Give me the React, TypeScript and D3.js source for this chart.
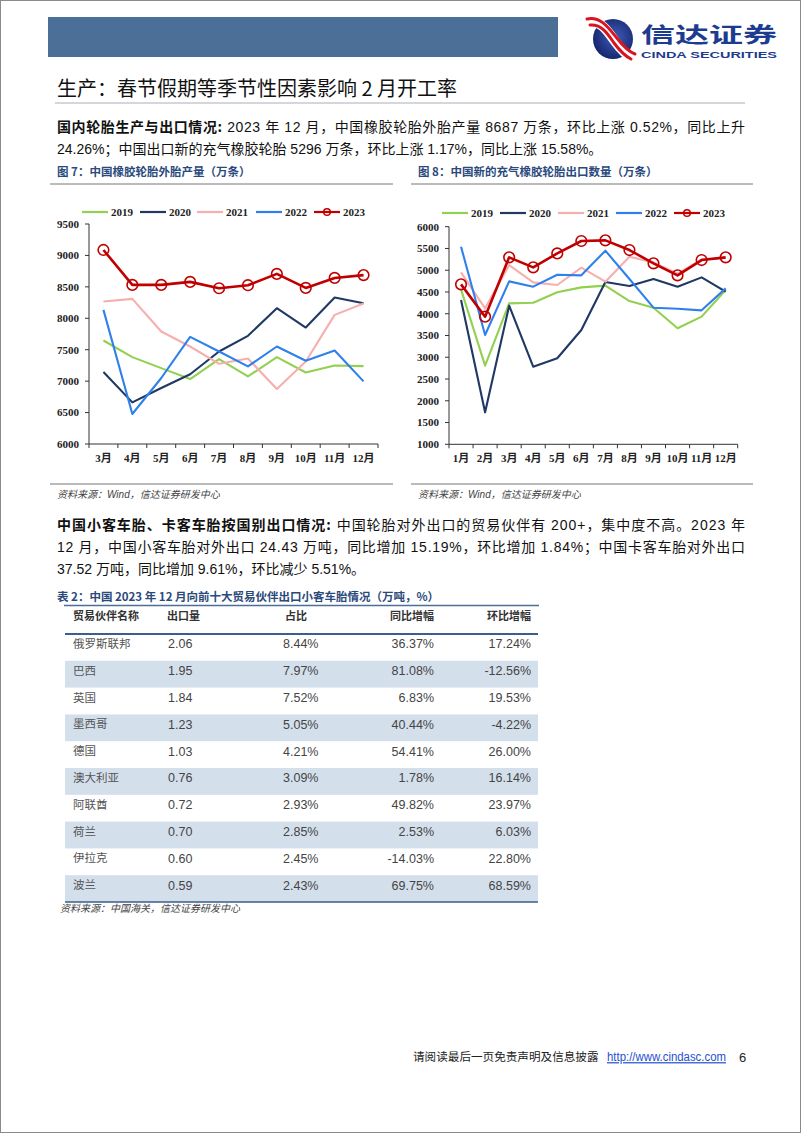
import React from 'react';
import * as d3 from 'd3';

const months1 = ['3月', '4月', '5月', '6月', '7月', '8月', '9月', '10月', '11月', '12月'];
const prod2019 = [7647, 7382, 7207, 7033, 7350, 7075, 7382, 7138, 7250, 7239];
const prod2020 = [7144, 6662, 6890, 7110, 7472, 7721, 8160, 7853, 8330, 8240];
const prod2021 = [8266, 8309, 7790, 7551, 7276, 7361, 6874, 7313, 8054, 8234];
const prod2022 = [8134, 6477, 7050, 7705, 7472, 7234, 7551, 7324, 7488, 6996];
const prod2023 = [9087, 8531, 8531, 8579, 8478, 8526, 8706, 8483, 8642, 8687];

const months2 = ['1月', '2月', '3月', '4月', '5月', '6月', '7月', '8月', '9月', '10月', '11月', '12月'];
const exp2019 = [4560, 2807, 4239, 4254, 4492, 4606, 4645, 4292, 4139, 3665, 3933, 4545];
const exp2020 = [4315, 1735, 4185, 2784, 2976, 3626, 4729, 4637, 4798, 4622, 4836, 4507];
const exp2021 = [4951, 4124, 5119, 4721, 4660, 5058, 4737, 5311, 5180, 4920, 5250, 5280];
const exp2022 = [5541, 3511, 4744, 4622, 4897, 4882, 5449, 4798, 4139, 4116, 4078, 4583];
const exp2023 = [4675, 3933, 5296, 5066, 5387, 5671, 5686, 5464, 5158, 4882, 5234, 5296];

const seriesNames = ['2019', '2020', '2021', '2022', '2023'];
const seriesColors = ['#92D050', '#1F3864', '#F7AFAD', '#2F80EC', '#C00000'];

const partners = ['俄罗斯联邦', '巴西', '英国', '墨西哥', '德国', '澳大利亚', '阿联酋', '荷兰', '伊拉克', '波兰'];
const volumes = ['2.06', '1.95', '1.84', '1.23', '1.03', '0.76', '0.72', '0.70', '0.60', '0.59'];
const shares = ['8.44%', '7.97%', '7.52%', '5.05%', '4.21%', '3.09%', '2.93%', '2.85%', '2.45%', '2.43%'];
const yoyGrowth = ['36.37%', '81.08%', '6.83%', '40.44%', '54.41%', '1.78%', '49.82%', '2.53%', '-14.03%', '69.75%'];
const momGrowth = ['17.24%', '-12.56%', '19.53%', '-4.22%', '26.00%', '16.14%', '23.97%', '6.03%', '22.80%', '68.59%'];
const tableHeaders = ['贸易伙伴名称', '出口量', '占比', '同比增幅', '环比增幅'];

const SANS = '"Liberation Sans", "Noto Sans CJK SC", sans-serif';
const CJK = '"Noto Sans CJK SC", "Liberation Sans", sans-serif';
const SERIF = '"Liberation Serif", "Noto Sans CJK SC", serif';
const TITLE_BLUE = '#2B4A7C';

type ChartProps = {
  months: string[];
  series: number[][];
  x0: number; x1: number; yTop: number; yBot: number;
  domain: [number, number];
  legendY: number;
  legendX: number[];
};

function LineChart({ months, series, x0, x1, yTop, yBot, domain, legendY, legendX }: ChartProps) {
  const x = d3.scaleBand<string>().domain(months).range([x0, x1]).padding(0);
  const y = d3.scaleLinear().domain(domain).range([yBot, yTop]);
  const bw = x.bandwidth();
  const cx = (i: number) => (x(months[i]) as number) + bw / 2;
  const line = d3.line<number>().x((_, i) => cx(i)).y((d) => y(d));
  const ticks = d3.range(domain[0], domain[1] + 1, 500);
  const axisColor = '#333';
  return (
    <g>
      {seriesNames.map((name, k) => (
        <g key={name}>
          <line x1={legendX[k]} x2={legendX[k] + 26} y1={legendY} y2={legendY} stroke={seriesColors[k]} strokeWidth={2.2} />
          {k === 4 && <circle cx={legendX[k] + 13} cy={legendY} r={3.3} fill="none" stroke={seriesColors[k]} strokeWidth={1.5} />}
          <text x={legendX[k] + 29} y={legendY} dy="0.35em" fontFamily={SERIF} fontWeight="bold" fontSize={11} fill="#222">{name}</text>
        </g>
      ))}
      <line x1={x0} x2={x0} y1={yTop} y2={yBot} stroke={axisColor} strokeWidth={1} />
      {ticks.map((t) => (
        <g key={t}>
          <line x1={x0 - 4} x2={x0} y1={y(t)} y2={y(t)} stroke={axisColor} strokeWidth={1} />
          <text x={x0 - 10} y={y(t)} dy="0.35em" textAnchor="end" fontFamily={SERIF} fontWeight="bold" fontSize={11} fill="#222">{t}</text>
        </g>
      ))}
      <line x1={x0} x2={x1} y1={yBot} y2={yBot} stroke={axisColor} strokeWidth={1} />
      {d3.range(months.length + 1).map((i) => (
        <line key={i} x1={x0 + i * bw} x2={x0 + i * bw} y1={yBot} y2={yBot + 4} stroke={axisColor} strokeWidth={1} />
      ))}
      {months.map((m, i) => (
        <text key={m} x={cx(i)} y={yBot + 14} dy="0.35em" textAnchor="middle" fontFamily={SERIF} fontWeight="bold" fontSize={11} fill="#222">{m}</text>
      ))}
      {series.map((s, k) => (
        <path key={k} d={line(s) as string} fill="none" stroke={seriesColors[k]} strokeWidth={k === 4 ? 2.6 : 2.1} strokeLinejoin="round" />
      ))}
      {series[4].map((v, i) => (
        <circle key={i} cx={cx(i)} cy={y(v)} r={5.3} fill="none" stroke={seriesColors[4]} strokeWidth={1.6} />
      ))}
    </g>
  );
}

function Logo() {
  return (
    <g>
      <defs>
        <radialGradient id="lg" cx="0.55" cy="0.45" r="0.65">
          <stop offset="0" stopColor="#3F5BB8" />
          <stop offset="1" stopColor="#101F63" />
        </radialGradient>
      </defs>
      <circle cx={613} cy={39} r={20} fill="url(#lg)" />
      <path d="M589 22 C600 20 607 30 614 40 C621 50 627 56 633 58" fill="none" stroke="#fff" strokeWidth={10} strokeLinecap="round" />
      <path d="M587 19 C600 16 608 27 616 37 C623 46 629 52 635 54" fill="none" stroke="#D9141E" strokeWidth={3} strokeLinecap="round" />
      <path d="M590 25 C602 24 608 34 614 43 C620 51 625 56 631 59" fill="none" stroke="#D9141E" strokeWidth={3} strokeLinecap="round" />
      <text x={641} y={42} fontFamily={CJK} fontWeight="bold" fontSize={21} fill="#1D3C8F" textLength={136} lengthAdjust="spacingAndGlyphs">信达证券</text>
      <text x={641} y={58} fontFamily={SANS} fontWeight="bold" fontSize={9.5} fill="#1D3C8F" textLength={136} lengthAdjust="spacingAndGlyphs">CINDA SECURITIES</text>
    </g>
  );
}

export default function App() {
  const rowTop = 634;
  const rowH = 26.8;
  const bodyFs = 14;
  return (
    <div style={{ position: 'absolute', left: 0, top: 0 }}>
      <svg width={802} height={1133} viewBox="0 0 802 1133" style={{ display: 'block', background: '#fff' }}>
        <rect x={0.5} y={0.5} width={800} height={1132} fill="#fff" stroke="#8a8a8a" strokeWidth={1} />
        <rect x={48} y={17} width={510} height={40} fill="#4C6F97" />
        <Logo />
        <text x={57} y={89} dy="0.35em" fontFamily={CJK} fontSize={20} fill="#111">生产：春节假期等季节性因素影响 2 月开工率</text>
        <line x1={55} x2={745} y1={103} y2={103} stroke="#A8B0BA" strokeWidth={1} />

        <text x={57} y={127} dy="0.35em" fontFamily={SANS} fontSize={bodyFs} fill="#111" textLength={688} lengthAdjust="spacing">
          <tspan fontFamily={CJK} fontWeight="bold">国内轮胎生产与出口情况:</tspan> 2023 年 12 月，中国橡胶轮胎外胎产量 8687 万条，环比上涨 0.52%，同比上升
        </text>
        <text x={57} y={149} dy="0.35em" fontFamily={SANS} fontSize={bodyFs} fill="#111">24.26%；中国出口新的充气橡胶轮胎 5296 万条，环比上涨 1.17%，同比上涨 15.58%。</text>

        <text x={57} y={172} dy="0.35em" fontFamily={CJK} fontWeight="bold" fontSize={11.5} fill={TITLE_BLUE}>图 7：中国橡胶轮胎外胎产量（万条）</text>
        <line x1={50} x2={393} y1={184} y2={184} stroke="#777" strokeWidth={1} />
        <text x={418} y={172} dy="0.35em" fontFamily={CJK} fontWeight="bold" fontSize={11.5} fill={TITLE_BLUE}>图 8：中国新的充气橡胶轮胎出口数量（万条）</text>
        <line x1={411} x2={753} y1={184} y2={184} stroke="#777" strokeWidth={1} />

        <LineChart months={months1} series={[prod2019, prod2020, prod2021, prod2022, prod2023]}
          x0={89} x1={378} yTop={224} yBot={444} domain={[6000, 9500]} legendY={212}
          legendX={[82, 140, 197, 256, 314]} />
        <LineChart months={months2} series={[exp2019, exp2020, exp2021, exp2022, exp2023]}
          x0={449} x1={737.7} yTop={226.7} yBot={444.3} domain={[1000, 6000]} legendY={213}
          legendX={[442, 500, 558, 616, 674]} />

        <line x1={50} x2={393} y1={484} y2={484} stroke="#777" strokeWidth={1} />
        <line x1={411} x2={753} y1={484} y2={484} stroke="#777" strokeWidth={1} />
        <text x={57} y={494} dy="0.35em" fontFamily={SANS} fontStyle="italic" fontSize={10} fill="#444">资料来源：Wind，信达证券研发中心</text>
        <text x={418} y={494} dy="0.35em" fontFamily={SANS} fontStyle="italic" fontSize={10} fill="#444">资料来源：Wind，信达证券研发中心</text>

        <text x={57} y={525} dy="0.35em" fontFamily={SANS} fontSize={bodyFs} fill="#111" textLength={688} lengthAdjust="spacing">
          <tspan fontFamily={CJK} fontWeight="bold">中国小客车胎、卡客车胎按国别出口情况:</tspan> 中国轮胎对外出口的贸易伙伴有 200+，集中度不高。2023 年
        </text>
        <text x={57} y={547} dy="0.35em" fontFamily={SANS} fontSize={bodyFs} fill="#111" textLength={688} lengthAdjust="spacing">12 月，中国小客车胎对外出口 24.43 万吨，同比增加 15.19%，环比增加 1.84%；中国卡客车胎对外出口</text>
        <text x={57} y={569} dy="0.35em" fontFamily={SANS} fontSize={bodyFs} fill="#111">37.52 万吨，同比增加 9.61%，环比减少 5.51%。</text>

        <text x={57} y={597} dy="0.35em" fontFamily={CJK} fontWeight="bold" fontSize={11.5} fill={TITLE_BLUE}>表 2：中国 2023 年 12 月向前十大贸易伙伴出口小客车胎情况（万吨，%）</text>
        <line x1={64} x2={539} y1={605.5} y2={605.5} stroke="#4C6F97" strokeWidth={1.5} />
        {[tableHeaders[0], tableHeaders[1], tableHeaders[2]].map((h, i) => (
          <text key={h} x={[73, 167, 285][i]} y={616} dy="0.35em" fontFamily={CJK} fontWeight="bold" fontSize={11} fill="#333">{h}</text>
        ))}
        <text x={434} y={616} dy="0.35em" textAnchor="end" fontFamily={CJK} fontWeight="bold" fontSize={11} fill="#333">{tableHeaders[3]}</text>
        <text x={531} y={616} dy="0.35em" textAnchor="end" fontFamily={CJK} fontWeight="bold" fontSize={11} fill="#333">{tableHeaders[4]}</text>
        {partners.map((p, i) => {
          const top = rowTop + i * rowH;
          const ty = top + 10;
          return (
            <g key={p}>
              {i % 2 === 1 && <rect x={65} y={top} width={473} height={rowH} fill="#D4DFEC" />}
              <text x={73} y={ty} dy="0.35em" fontFamily={CJK} fontSize={11.5} fill="#555">{p}</text>
              <text x={168} y={ty} dy="0.35em" fontFamily={SANS} fontSize={12.5} fill="#444">{volumes[i]}</text>
              <text x={283} y={ty} dy="0.35em" fontFamily={SANS} fontSize={12.5} fill="#444">{shares[i]}</text>
              <text x={434} y={ty} dy="0.35em" textAnchor="end" fontFamily={SANS} fontSize={12.5} fill="#444">{yoyGrowth[i]}</text>
              <text x={531} y={ty} dy="0.35em" textAnchor="end" fontFamily={SANS} fontSize={12.5} fill="#444">{momGrowth[i]}</text>
            </g>
          );
        })}
        <line x1={65} x2={538} y1={rowTop} y2={rowTop} stroke="#3C5E8A" strokeWidth={2} />
        <line x1={65} x2={538} y1={rowTop + 10 * rowH} y2={rowTop + 10 * rowH} stroke="#3C5E8A" strokeWidth={1.5} />
        <text x={60} y={908} dy="0.35em" fontFamily={CJK} fontStyle="italic" fontSize={10} fill="#444">资料来源：中国海关，信达证券研发中心</text>

        <text x={413} y={1057} dy="0.35em" fontFamily={CJK} fontSize={11.6} fill="#222">请阅读最后一页免责声明及信息披露</text>
        <text x={607} y={1057} dy="0.35em" fontFamily={SANS} fontSize={12} fill="#1F4FD0" textDecoration="underline" textLength={119} lengthAdjust="spacingAndGlyphs">http://www.cindasc.com</text>
        <text x={739} y={1057} dy="0.35em" fontFamily={SANS} fontSize={13} fill="#222">6</text>
      </svg>
    </div>
  );
}
